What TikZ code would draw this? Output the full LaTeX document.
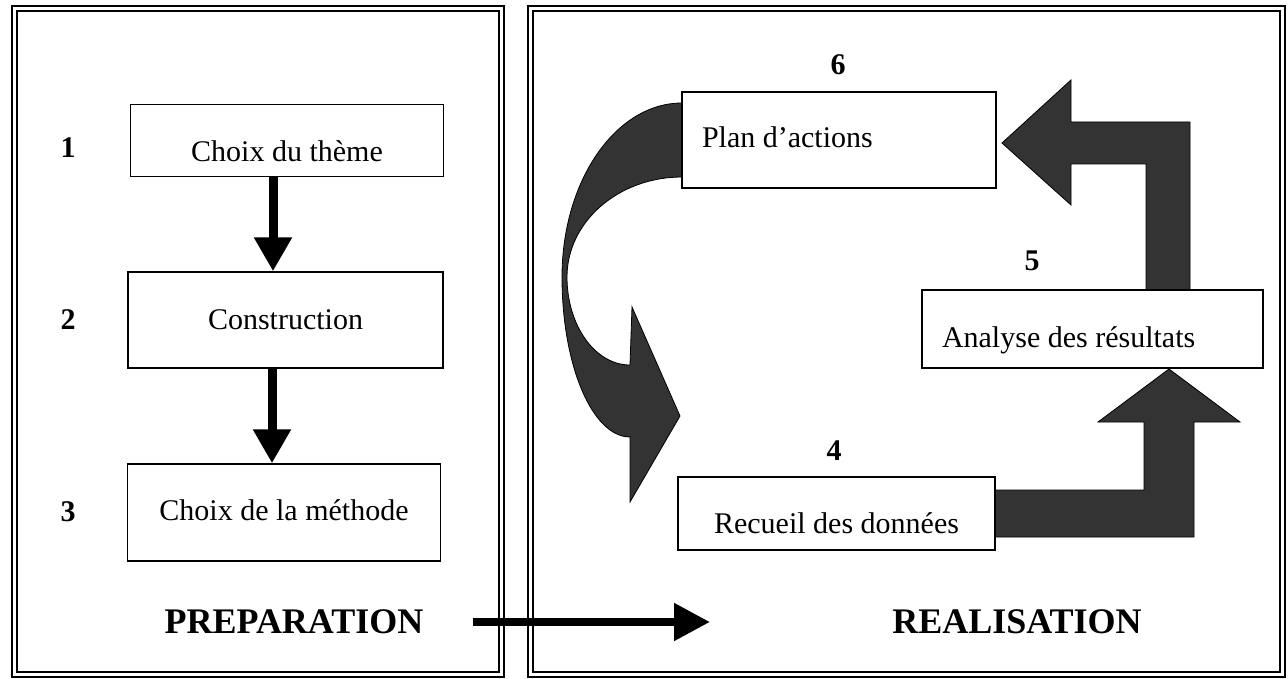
\documentclass[tikz,border=0pt]{standalone}
\usepackage{fontspec}
\setmainfont{Liberation Serif}
\usetikzlibrary{arrows.meta}
\tikzset{
  box/.style={draw, line width=1.4pt, fill=white, inner sep=0pt, text depth=0pt,
    font=\fontsize{30}{36}\selectfont},
  num/.style={font=\bfseries\fontsize{30}{36}\selectfont, inner sep=0pt},
  paneltitle/.style={font=\bfseries\fontsize{36}{40}\selectfont, inner sep=0pt},
  frame/.style={line width=1.3pt},
  flow/.style={line width=9pt, -{Triangle[width=36pt,length=34pt]}},
  bigflow/.style={line width=8pt, -{Triangle[width=36pt,length=36pt]}},
  garrow/.style={fill=black!80, draw=black, line width=0.8pt, line join=miter}
}
\begin{document}
\begin{tikzpicture}[x=1pt,y=-1pt]
\useasboundingbox (0,0) rectangle (1288,679);
% panel frames (double lines)
\draw[frame] (12,6) rectangle (504,677);
\draw[frame] (17,11) rectangle (499,672);
\draw[frame] (528,6) rectangle (1285,677);
\draw[frame] (533,11) rectangle (1280,672);

% ---- left panel ----
\node[box, minimum width=313pt, minimum height=72pt, text height=42pt] (b1) at (287,140.5) {Choix du thème};
\node[box, minimum width=315pt, minimum height=96pt, text height=18pt] (b2) at (285.5,320) {Construction};
\node[box, minimum width=313pt, minimum height=97pt, text height=15pt] (b3) at (284,512.5) {Choix de la méthode};
\node[num] (n1) at (68,148) {1};
\node[num] (n2) at (68,320) {2};
\node[num] (n3) at (68,512) {3};
\draw[flow] (b1.south -| 273,0) -- (b2.north -| 273,0);
\draw[flow] (b2.south -| 272,0) -- (b3.north -| 272,0);
\node[paneltitle] (prep) at (294,622) {PREPARATION};
\coordinate (a1) at (473,622);
\coordinate (a2) at (710,622);
\draw[bigflow] (a1) -- (a2);

% ---- right panel : grey arrows ----
% curved arrow from Plan d'actions down to Recueil
\draw[garrow] (682,103) .. controls (615.7,103) and (562,180.9) .. (562,277)
  .. controls (562,365.4) and (592.4,437) .. (630,437)
  -- (630,502) -- (680,416) -- (632,307) -- (630,365)
  .. controls (595.2,365) and (567,325.6) .. (567,277)
  .. controls (567,221.8) and (618.5,177) .. (682,177) -- cycle;
% L arrow from Recueil up to Analyse
\draw[garrow] (995,490) -- (1144,490) -- (1144,422) -- (1098,422) -- (1169,369)
  -- (1240,422) -- (1194,422) -- (1194,537) -- (995,537) -- cycle;
% L arrow from Analyse up and left to Plan
\draw[garrow] (1146,290) -- (1146,164) -- (1071,164) -- (1071,205) -- (1002,143)
  -- (1071,80) -- (1071,122) -- (1190,122) -- (1190,290) -- cycle;

% ---- right panel : boxes ----
\node[box, minimum width=314pt, minimum height=96pt, text height=16pt] (b6) at (839,140)
  {\makebox[274pt][l]{Plan d’actions}};
\node[box, minimum width=341pt, minimum height=78pt, text height=36pt] (b5) at (1092.5,329)
  {\makebox[301pt][l]{Analyse des résultats}};
\node[box, minimum width=317pt, minimum height=73pt, text height=39pt] (b4) at (836.5,513.5) {Recueil des données};
\node[num] (n6) at (838,65) {6};
\node[num] (n5) at (1032,261) {5};
\node[num] (n4) at (834,451) {4};
\node[paneltitle] (real) at (1017,622) {REALISATION};
\end{tikzpicture}
\end{document}
